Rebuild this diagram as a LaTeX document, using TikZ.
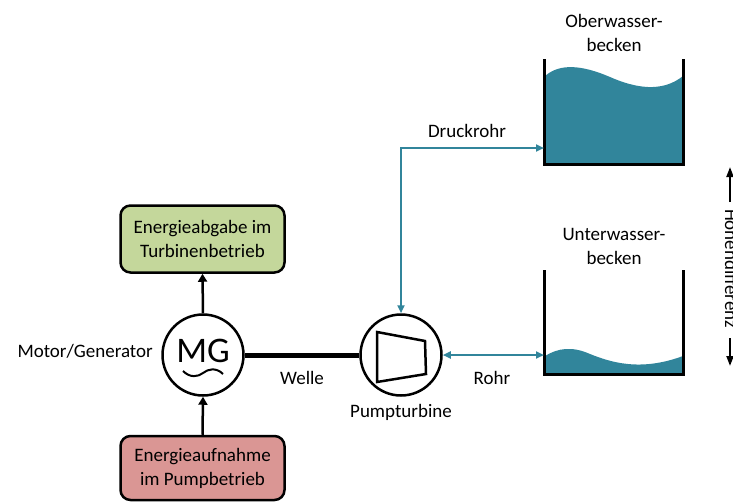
\documentclass[tikz,border=0pt]{standalone}
\usepackage{fontspec}
\setmainfont{Carlito}
\usetikzlibrary{arrows.meta}
\definecolor{water}{RGB}{49,133,155}
\definecolor{boxgreen}{RGB}{196,215,155}
\definecolor{boxred}{RGB}{218,150,148}
\begin{document}
\begin{tikzpicture}[x=1pt,y=-1pt,
  lbl/.style={font=\fontsize{19}{24}\selectfont, align=center, inner sep=0pt},
  energybox/.style={draw, line width=2.5pt, rounded corners=10pt, minimum width=164pt,
    minimum height=67pt, align=center, inner sep=0pt, font=\fontsize{19}{24}\selectfont},
  machine/.style={circle, draw, line width=2.5pt, minimum size=81pt, inner sep=0pt},
  pipe/.style={draw=water, line width=2pt, {Triangle[length=8pt,width=7pt]}-{Triangle[length=8pt,width=7pt]}},
  power/.style={line width=2.5pt, -{Triangle[length=8pt,width=9pt]}},
  wall/.style={line width=3pt},
  level/.style={line width=2pt, -{Triangle[length=10pt,width=7pt]}}
]
\useasboundingbox (0,0) rectangle (733,501);

% machines
\node[machine] (mg) at (203,355) {};
\node[font=\fontsize{36}{36}\selectfont, inner sep=0pt] (mgtext) at (203,351) {MG};
\draw[line width=2pt] (183,371) .. controls (190,378) and (198,377) .. (203,373)
  .. controls (208,369) and (216,367) .. (223,374);
\node[machine] (pump) at (401,355) {};
\draw[line width=2.5pt, line join=miter] (377,332) -- (425,341) -- (426,374) -- (377,382) -- cycle;

% shaft
\draw[line width=5pt] (mg.east) -- (pump.west);

% energy boxes
\node[energybox, fill=boxgreen] (gain) at (202.5,239) {Energieabgabe im\\Turbinenbetrieb};
\node[energybox, fill=boxred, minimum height=64pt] (loss) at (202.5,468) {Energieaufnahme\\im Pumpbetrieb};
\draw[power] (mg.north) -- (gain.south);
\draw[power] (loss.north) -- (mg.south);

% upper basin
\fill[water] (545,76) .. controls (560,63) and (582,65) .. (610,77)
  .. controls (635,88) and (662,93) .. (683,76) -- (683,164) -- (545,164) -- cycle;
\draw[wall] (544,59) -- (544,164) -- (683,164) -- (683,59);
% lower basin
\fill[water] (545,356) .. controls (558,348) and (572,346) .. (590,354)
  .. controls (610,362) and (640,372) .. (683,356) -- (683,374) -- (545,374) -- cycle;
\draw[wall] (544,270) -- (544,374) -- (683,374) -- (683,270);

\coordinate (upin) at (544,148);
\coordinate (lowin) at (544,355);

% pipes
\draw[pipe] (pump.north) |- (upin);
\draw[pipe] (pump.east) -- (lowin);

% labels
\node[lbl] (upname) at (614,33) {Oberwasser-\\becken};
\node[lbl] (lowname) at (614,246) {Unterwasser-\\becken};
\node[lbl] (druck) at (467,131) {Druckrohr};
\node[lbl] (rohr) at (492,378) {Rohr};
\node[lbl] (welle) at (302,378) {Welle};
\node[lbl] (pumpname) at (401,412) {Pumpturbine};
\node[lbl, anchor=east] (mgname) at (153,351) {Motor/Generator};

% head difference
\node[lbl, rotate=-90, anchor=base] (hd) at (725,268.5) {Höhendifferenz};
\coordinate (htop) at (730,167);
\coordinate (hbot) at (730,366);
\draw[level] (730,202) -- (htop);
\draw[level] (730,338) -- (hbot);
\end{tikzpicture}
\end{document}
